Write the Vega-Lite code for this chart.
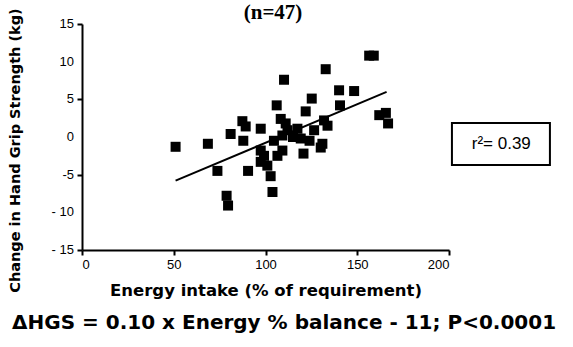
{
  "$schema": "https://vega.github.io/schema/vega-lite/v6.json",
  "width": 367,
  "height": 226,
  "autosize": "none",
  "padding": {"left": 82, "top": 24, "right": 124, "bottom": 97},
  "background": "white",
  "config": {
    "view": {"stroke": null},
    "font": "Liberation Sans",
    "axis": {
      "labelOverlap": false, "grid": false, "domainColor": "black", "domainWidth": 2,
      "tickColor": "black", "tickWidth": 2, "tickSize": 5,
      "labelFont": "Liberation Sans", "labelFontSize": 13, "labelColor": "black", "labelPadding": 3,
      "titleFont": "DejaVu Sans", "titleFontWeight": "bold", "titleColor": "black"
    }
  },
  "datasets": {
    "points": [
      {"energy": 51, "dhgs": -1.3}, {"energy": 68.6, "dhgs": -0.9}, {"energy": 81, "dhgs": 0.4},
      {"energy": 87.4, "dhgs": 2.1}, {"energy": 89.2, "dhgs": 1.4}, {"energy": 87.9, "dhgs": -0.5},
      {"energy": 97.4, "dhgs": 1.1}, {"energy": 73.8, "dhgs": -4.5}, {"energy": 90.5, "dhgs": -4.5},
      {"energy": 78.8, "dhgs": -7.8}, {"energy": 79.6, "dhgs": -9.1}, {"energy": 102.8, "dhgs": -5.2},
      {"energy": 103.8, "dhgs": -7.3}, {"energy": 97.4, "dhgs": -1.8}, {"energy": 97.4, "dhgs": -3.3},
      {"energy": 99.2, "dhgs": -2.5}, {"energy": 106.5, "dhgs": -2.5}, {"energy": 109.2, "dhgs": -1.8},
      {"energy": 106.1, "dhgs": 4.2}, {"energy": 110.1, "dhgs": 7.6}, {"energy": 108.3, "dhgs": 2.4},
      {"energy": 111, "dhgs": 1.8}, {"energy": 112, "dhgs": 0.9}, {"energy": 109.2, "dhgs": 0.2},
      {"energy": 104.6, "dhgs": -0.5}, {"energy": 117.4, "dhgs": 1.1}, {"energy": 119.2, "dhgs": -0.2},
      {"energy": 120.7, "dhgs": -2.2}, {"energy": 121.9, "dhgs": 3.4}, {"energy": 125.2, "dhgs": 5.1},
      {"energy": 126.5, "dhgs": 0.9}, {"energy": 130.1, "dhgs": -1.4}, {"energy": 131, "dhgs": -0.9},
      {"energy": 131.9, "dhgs": 2.2}, {"energy": 132.8, "dhgs": 9.0}, {"energy": 140.1, "dhgs": 6.2},
      {"energy": 140.6, "dhgs": 4.2}, {"energy": 133.8, "dhgs": 1.5}, {"energy": 156.5, "dhgs": 10.8},
      {"energy": 159, "dhgs": 10.8}, {"energy": 148.3, "dhgs": 6.1}, {"energy": 162, "dhgs": 2.9},
      {"energy": 165.6, "dhgs": 3.2}, {"energy": 166.8, "dhgs": 1.8}, {"energy": 115, "dhgs": 0.0},
      {"energy": 124, "dhgs": -0.5}, {"energy": 101, "dhgs": -3.8}
    ],
    "fit": [{"energy": 51, "dhgs": -5.8}, {"energy": 166, "dhgs": 6.0}],
    "box": [{"x1": 201.6, "x2": 255, "y1": 1.86, "y2": -3.72, "xc": 228.5, "yc": -0.93, "label": "r²= 0.39"}],
    "yticks": [
      {"v": 15, "label": "15"}, {"v": 10, "label": "10"}, {"v": 5, "label": "5"}, {"v": 0, "label": "0"},
      {"v": -5, "label": "-5"}, {"v": -10, "label": "- 10"}, {"v": -15, "label": "- 15"}
    ],
    "notes": [
      {"x": 104.1, "y": 15.7, "label": "(n=47)"},
      {"x": -38.1, "y": -24.7, "label": "ΔHGS = 0.10 x Energy % balance - 11; P<0.0001"}
    ]
  },
  "layer": [
    {
      "data": {"name": "points"},
      "mark": {"type": "point", "shape": "square", "filled": true, "color": "black", "size": 100, "opacity": 1},
      "encoding": {
        "x": {
          "field": "energy", "type": "quantitative",
          "scale": {"domain": [0, 200], "nice": false},
          "axis": {
            "title": "Energy intake (% of requirement)",
            "values": [0, 50, 100, 150, 200],
            "labelOverlap": false,
            "titleFontSize": 16.5, "titlePadding": 11
          }
        },
        "y": {
          "field": "dhgs", "type": "quantitative",
          "scale": {"domain": [-15, 15], "nice": false},
          "axis": {
            "title": "Change in Hand Grip Strength (kg)",
            "values": [-15, -10, -5, 0, 5, 10, 15],
            "labels": false,
            "titleFontSize": 14.5,
            "titleX": -67, "titleY": 126, "titleAngle": -90, "titleAlign": "center", "titleBaseline": "middle"
          }
        }
      }
    },
    {
      "data": {"name": "yticks"},
      "mark": {"type": "text", "font": "Liberation Sans", "fontSize": 13, "color": "black", "align": "right", "baseline": "middle", "dx": -8},
      "encoding": {
        "x": {"datum": 0, "type": "quantitative"},
        "y": {"field": "v", "type": "quantitative"},
        "text": {"field": "label"}
      }
    },
    {
      "data": {"name": "fit"},
      "mark": {"type": "line", "color": "black", "strokeWidth": 2},
      "encoding": {
        "x": {"field": "energy", "type": "quantitative"},
        "y": {"field": "dhgs", "type": "quantitative"}
      }
    },
    {
      "data": {"name": "box"},
      "mark": {"type": "rect", "fill": "white", "stroke": "black", "strokeWidth": 2},
      "encoding": {
        "x": {"field": "x1", "type": "quantitative"},
        "x2": {"field": "x2"},
        "y": {"field": "y1", "type": "quantitative"},
        "y2": {"field": "y2"}
      }
    },
    {
      "data": {"name": "box"},
      "mark": {"type": "text", "font": "Liberation Sans", "fontSize": 17, "color": "black", "align": "center", "baseline": "middle"},
      "encoding": {
        "x": {"field": "xc", "type": "quantitative"},
        "y": {"field": "yc", "type": "quantitative"},
        "text": {"field": "label"}
      }
    },
    {
      "data": {"name": "notes"},
      "transform": [{"filter": "datum.label == '(n=47)'"}],
      "mark": {"type": "text", "font": "Liberation Serif", "fontSize": 21, "fontWeight": "bold", "color": "black", "align": "center", "baseline": "alphabetic"},
      "encoding": {
        "x": {"field": "x", "type": "quantitative"},
        "y": {"field": "y", "type": "quantitative"},
        "text": {"field": "label"}
      }
    },
    {
      "data": {"name": "notes"},
      "transform": [{"filter": "datum.label != '(n=47)'"}],
      "mark": {"type": "text", "font": "DejaVu Sans", "fontSize": 20, "fontWeight": "bold", "color": "black", "align": "left", "baseline": "middle"},
      "encoding": {
        "x": {"field": "x", "type": "quantitative"},
        "y": {"field": "y", "type": "quantitative"},
        "text": {"field": "label"}
      }
    }
  ]
}
